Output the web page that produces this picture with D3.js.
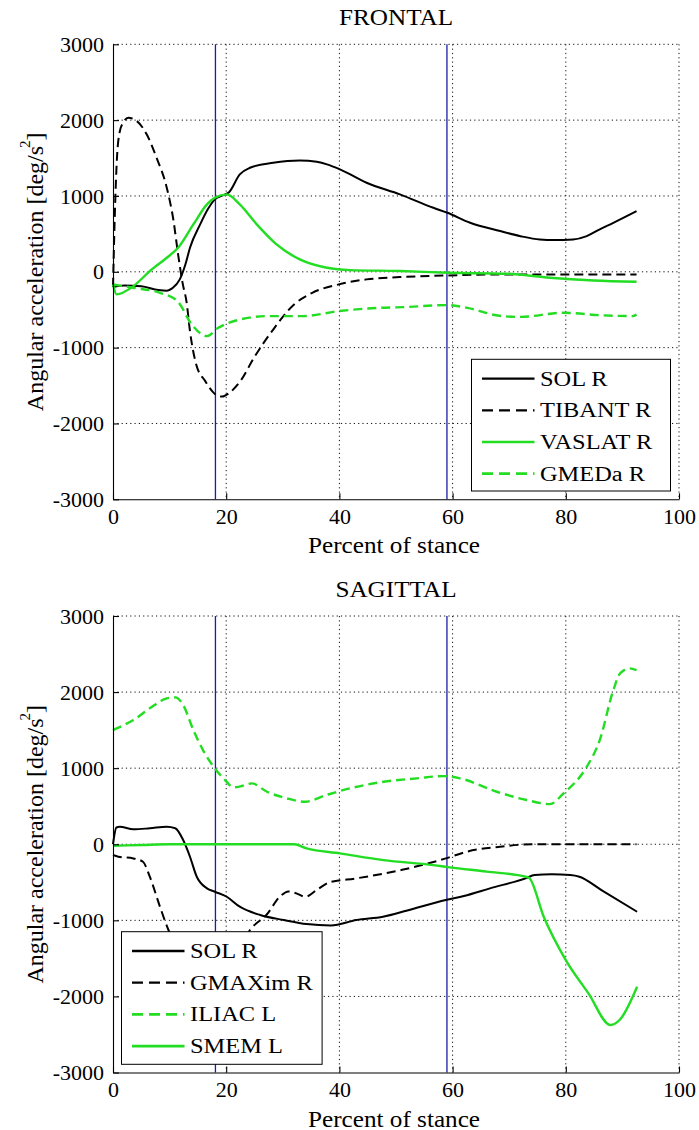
<!DOCTYPE html>
<html><head><meta charset="utf-8">
<script src="https://cdn.jsdelivr.net/npm/d3@7"></script>
<style>
body{margin:0;background:#fff}
text{font-family:"Liberation Serif","Times New Roman",serif;fill:#000}
</style></head>
<body><svg id="chart" width="699" height="1130"></svg>
<script>
// ---------- DATA ----------
const percentTicks = [0, 20, 40, 60, 80, 100];
const accelTicks = [-3000, -2000, -1000, 0, 1000, 2000, 3000];
const phaseLines = [18.1, 59.0];
const panelTitles = ["FRONTAL", "SAGITTAL"];
const xLabel = "Percent of stance";

// FRONTAL
const frontalNames = ["SOL R", "TIBANT R", "VASLAT R", "GMEDa R"];
const frontalSolX = [0, 2, 5, 8, 9.5, 10.5, 11.8, 12.8, 13.6, 15.4, 16.8, 18, 19.5, 20.5, 22.4, 24.2, 28.3, 33, 36, 37.8, 40.1, 44.8, 50.7, 56.6, 59.1, 63.1, 68.4, 72, 75.4, 78, 81.3, 83.7, 86, 88.4, 92.5];
const frontalSolY = [-200, -180, -190, -240, -250, -215, -100, 100, 317, 625, 830, 955, 1010, 1050, 1285, 1372, 1438, 1469, 1450, 1417, 1351, 1174, 1021, 844, 778, 646, 537, 470, 427, 420, 427, 471, 560, 646, 800];
const frontalTibX = [0, 0.3, 0.7, 1.2, 1.8, 2.7, 4.2, 5.95, 7.7, 9.5, 10.7, 11.5, 12.3, 13, 13.6, 14.7, 16.3, 17.6, 18.6, 19.3, 20.5, 22.5, 24.9, 28.1, 32, 35.2, 39.9, 44.8, 50.7, 59, 70, 80, 92.5];
const frontalTibY = [-200, 700, 1500, 1850, 1966, 2032, 1988, 1813, 1504, 1108, 669, 230, -150, -400, -782, -1222, -1442, -1580, -1640, -1645, -1600, -1442, -1134, -782, -430, -277, -166, -100, -70, -48, -35, -35, -35];
const frontalVasX = [0, 0.65, 3.6, 6.5, 9.5, 11.5, 14.2, 16.6, 18, 20.1, 22.4, 25.4, 28.9, 33, 37.8, 41.9, 50.7, 59.2, 69.6, 77.2, 84.9, 92.5];
const frontalVasY = [-167, -298, -189, 9, 185, 317, 625, 889, 976, 1021, 889, 625, 361, 163, 53, 22, 10, -13, -26, -79, -114, -132];
const frontalGmedX = [0, 3.6, 8.3, 11.4, 13.9, 16.6, 18.6, 22.5, 27.3, 33.6, 39.9, 47, 51.3, 58.9, 62.6, 68.3, 72, 79.5, 86.2, 91.8, 92.5];
const frontalGmedY = [-167, -211, -277, -387, -694, -848, -739, -628, -584, -584, -518, -475, -466, -439, -475, -580, -595, -540, -573, -584, -565];

// SAGITTAL
const sagittalNames = ["SOL R", "GMAXim R", "ILIAC L", "SMEM L"];
const sagittalSolX = [0, 0.6, 1.2, 3.6, 6.5, 9.5, 11, 12.4, 13.6, 14.8, 16.6, 18, 20.1, 22.4, 26, 30.2, 34.2, 38.5, 43, 47.7, 52, 58.8, 62, 66.6, 72.9, 74.5, 77.5, 80.8, 82.4, 86.3, 92.6];
const sagittalSolY = [0, 220, 230, 196, 210, 230, 210, 55, -164, -427, -580, -624, -690, -821, -930, -996, -1049, -1068, -996, -953, -870, -733, -680, -580, -448, -405, -395, -405, -427, -602, -887];
const sagittalGmaxX = [0, 0.94, 3.6, 5.3, 6.5, 8.3, 9.8, 12, 17, 22, 24.2, 27.2, 29.6, 31, 32.2, 34, 36, 38.3, 43, 50.9, 58.8, 62.5, 68.4, 74.3, 80, 92.5];
const sagittalGmaxY = [-142, -164, -186, -230, -427, -821, -1127, -1400, -1600, -1400, -1127, -920, -680, -620, -640, -690, -600, -500, -448, -339, -186, -98, -32, 0, 0, 0];
const sagittalIliacX = [0, 0.65, 3.6, 6.5, 9.5, 11, 12.4, 14.2, 15.9, 18, 19.8, 21.3, 22.5, 24.5, 27.2, 30.7, 33.9, 37.7, 41.9, 47.8, 53.7, 58.4, 61.3, 67.8, 73.1, 77.2, 79.6, 83.7, 86, 88.4, 89.6, 91.3, 92.5];
const sagittalIliacY = [1500, 1523, 1632, 1786, 1917, 1930, 1829, 1500, 1238, 997, 844, 748, 760, 800, 690, 603, 559, 647, 735, 821, 866, 896, 866, 690, 581, 528, 669, 1018, 1369, 2026, 2246, 2311, 2290];
const sagittalSmemX = [0, 5, 10, 20, 32, 34.2, 40.1, 47.8, 56.6, 59.5, 66, 72.9, 73.5, 76.1, 80, 84, 87.9, 89.5, 92.6];
const sagittalSmemY = [-20, -10, 0, 0, 0, -54, -120, -208, -274, -304, -360, -427, -440, -953, -1522, -1960, -2376, -2310, -1872];

// ---------- STYLE / LAYOUT ----------
const BLACK = "#000", GREEN = "#22dd22", BLUE = "#1c1ca6";
const styles = [
  {color: BLACK, dash: null, w: 2},
  {color: BLACK, dash: "9,5", w: 2},
  {color: GREEN, dash: null, w: 2.4},
  {color: GREEN, dash: "9,5", w: 2.4}
];
const frontalStyle = [0, 1, 2, 3];
const sagittalStyle = [0, 1, 3, 2];

function zip(xs, ys) { return xs.map((x, i) => ({x, y: ys[i]})); }

const panels = [
  {title: panelTitles[0], top: 44.3, bottom: 499.3,
   names: frontalNames, styleIdx: frontalStyle,
   series: [zip(frontalSolX, frontalSolY), zip(frontalTibX, frontalTibY), zip(frontalVasX, frontalVasY), zip(frontalGmedX, frontalGmedY)],
   legend: {x: 471.5, y: 359.3, w: 199, h: 131.7}},
  {title: panelTitles[1], top: 616, bottom: 1072.5,
   names: sagittalNames, styleIdx: sagittalStyle,
   series: [zip(sagittalSolX, sagittalSolY), zip(sagittalGmaxX, sagittalGmaxY), zip(sagittalIliacX, sagittalIliacY), zip(sagittalSmemX, sagittalSmemY)],
   legend: {x: 121.5, y: 931.7, w: 200.6, h: 132.6}}
];

const svg = d3.select("#chart");
const X0 = 113, X1 = 679;

function stretch(sel, f) {
  sel.each(function () {
    const L = this.getComputedTextLength();
    this.setAttribute("textLength", L * f);
    this.setAttribute("lengthAdjust", "spacingAndGlyphs");
  });
}

panels.forEach(p => {
  const x = d3.scaleLinear().domain([0, 100]).range([X0, X1]);
  const y = d3.scaleLinear().domain([-3000, 3000]).range([p.bottom, p.top]);
  const g = svg.append("g");

  // grid (dotted)
  const grid = g.append("g").attr("stroke", "#111").attr("stroke-width", 1).attr("stroke-dasharray", "1.2,3.1");
  grid.selectAll(".gx").data(percentTicks.filter(v => v > 0)).join("line")
    .attr("x1", d => x(d)).attr("x2", d => x(d)).attr("y1", p.top).attr("y2", p.bottom);
  grid.selectAll(".gy").data(accelTicks.filter(v => v > -3000)).join("line")
    .attr("x1", X0).attr("x2", X1).attr("y1", d => y(d)).attr("y2", d => y(d));

  // phase lines
  g.append("g").selectAll("line").data(phaseLines).join("line")
    .attr("x1", d => x(d)).attr("x2", d => x(d)).attr("y1", p.top).attr("y2", p.bottom)
    .attr("stroke", BLUE).attr("stroke-width", 1.3);

  // curves
  const line = d3.line().x(d => x(d.x)).y(d => y(d.y)).curve(d3.curveMonotoneX);
  p.series.forEach((s, i) => {
    const st = styles[p.styleIdx[i]];
    g.append("path").datum(s).attr("d", line).attr("fill", "none")
      .attr("stroke", st.color).attr("stroke-width", st.w)
      .attr("stroke-dasharray", st.dash).attr("stroke-linejoin", "round");
  });

  // legend
  const L = p.legend;
  const lg = g.append("g");
  lg.append("rect").attr("x", L.x).attr("y", L.y).attr("width", L.w).attr("height", L.h)
    .attr("fill", "#fff").attr("stroke", "#000").attr("stroke-width", 1);
  p.names.forEach((n, i) => {
    const st = styles[p.styleIdx[i]];
    const cy = L.y + 19.3 + i * 31.7;
    lg.append("line").attr("x1", L.x + 10.5).attr("x2", L.x + 63).attr("y1", cy).attr("y2", cy)
      .attr("stroke", st.color).attr("stroke-width", st.w + 0.3).attr("stroke-dasharray", st.dash ? "11,6" : null);
    const t = lg.append("text").attr("x", L.x + 68.5).attr("y", cy + 7).attr("font-size", 20).text(n);
    stretch(t, 1.22);
  });

  // axes
  const ax = g.append("g").attr("transform", `translate(0,${p.bottom})`)
    .call(d3.axisBottom(x).tickValues(percentTicks).tickSize(-6).tickSizeOuter(0).tickPadding(9));
  const ay = g.append("g").attr("transform", `translate(${X0},0)`)
    .call(d3.axisLeft(y).tickValues(accelTicks).tickSize(-6).tickSizeOuter(0).tickPadding(9));
  [ax, ay].forEach(a => {
    a.selectAll("path,line").attr("stroke", "#000").attr("stroke-width", 1.1);
    a.selectAll("text").attr("font-size", 22).attr("font-family", '"Liberation Serif","Times New Roman",serif').attr("fill", "#000");
  });
  ay.selectAll("text").text(d => d);

  // title
  const tt = g.append("text").attr("x", (X0 + X1) / 2).attr("y", p.top - 19.5)
    .attr("text-anchor", "middle").attr("font-size", 24).text(p.title);
  stretch(tt, 1.05);
  // x label
  const xl = g.append("text").attr("x", (X0 + X1) / 2 - 2).attr("y", p.bottom + 54)
    .attr("text-anchor", "middle").attr("font-size", 24).text(xLabel);
  stretch(xl, 1.05);
  // y label
  const yc = (p.top + p.bottom) / 2;
  const yl = g.append("text").attr("transform", `translate(43,${yc}) rotate(-90)`)
    .attr("text-anchor", "middle").attr("font-size", 24);
  yl.append("tspan").text("Angular acceleration [deg/s");
  yl.append("tspan").attr("font-size", 15).attr("dy", -13).attr("dx", -2).text("2");
  yl.append("tspan").attr("dy", 13).text("]");
});
</script></body></html>
